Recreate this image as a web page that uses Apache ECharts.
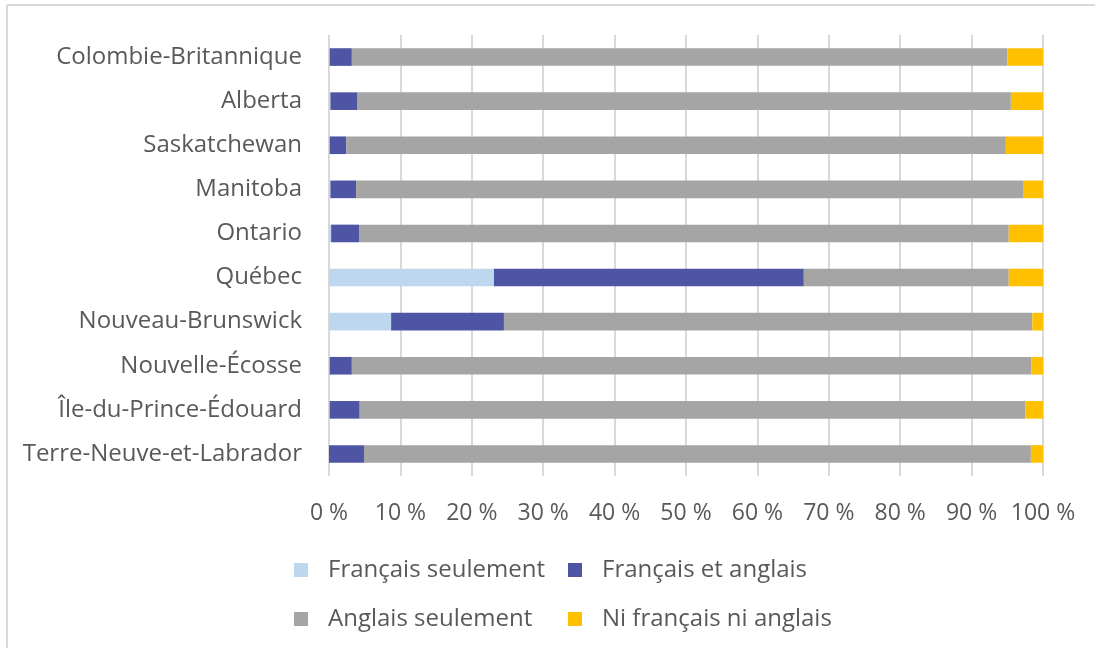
<!DOCTYPE html>
<html>
<head>
<meta charset="utf-8">
<script src="https://cdn.jsdelivr.net/npm/echarts@6/dist/echarts.min.js"></script>
<style>
  html, body { margin: 0; padding: 0; background: #fff; }
  #main { width: 1095px; height: 648px; }
</style>
</head>
<body>
<div id="main"></div>
<script>
// provinces, listed top to bottom as in the picture
const provinces = [
  'Colombie-Britannique', 'Alberta', 'Saskatchewan', 'Manitoba', 'Ontario',
  'Québec', 'Nouveau-Brunswick', 'Nouvelle-Écosse', 'Île-du-Prince-Édouard',
  'Terre-Neuve-et-Labrador'
];

// % of population by knowledge of official languages
const francaisSeulement = [0.1, 0.2, 0.1, 0.2, 0.3, 23.1, 8.7, 0.1, 0.1, 0.0];
const francaisEtAnglais = [3.1, 3.8, 2.3, 3.6, 3.9, 43.4, 15.8, 3.1, 4.2, 4.9];
const anglaisSeulement = [91.8, 91.5, 92.4, 93.5, 91.0, 28.7, 74.0, 95.2, 93.2, 93.4];
const niFrNiAng = [5.0, 4.5, 5.2, 2.7, 4.8, 4.8, 1.5, 1.6, 2.5, 1.7];

const xTicks = [0, 10, 20, 30, 40, 50, 60, 70, 80, 90, 100];

const FONT = '"Open Sans", "Noto Sans", sans-serif';
const TXT = '#595959';

const myChart = echarts.init(document.getElementById('main'));

function bar(name, data, color) {
  return {
    name: name,
    type: 'bar',
    stack: 'total',
    barWidth: '40%',
    data: data,
    itemStyle: { color: color },
    emphasis: { disabled: true }
  };
}

function legendAt(name, left, top) {
  return {
    data: [name],
    left: left,
    top: top,
    icon: 'rect',
    itemWidth: 14,
    itemHeight: 14,
    selectedMode: false,
    textStyle: { fontFamily: FONT, fontSize: 24, color: TXT, padding: [0, 0, 0, 15] }
  };
}

myChart.setOption({
  animation: false,
  grid: { left: 329, right: 52, top: 35, bottom: 172, containLabel: false },
  xAxis: {
    type: 'value',
    min: xTicks[0],
    max: xTicks[xTicks.length - 1],
    interval: 10,
    axisLine: { show: false },
    axisTick: { show: false },
    splitLine: { lineStyle: { color: '#d9d9d9', width: 2 } },
    axisLabel: {
      formatter: '{value} %',
      margin: 26,
      fontFamily: FONT,
      fontSize: 23,
      color: TXT
    }
  },
  yAxis: {
    type: 'category',
    inverse: true,
    data: provinces,
    axisLine: { show: false },
    axisTick: { show: false },
    axisLabel: { margin: 27, fontFamily: FONT, fontSize: 24, color: TXT }
  },
  legend: [
    legendAt('Français seulement', 289, 553),
    legendAt('Français et anglais', 563, 553),
    legendAt('Anglais seulement', 289, 602),
    legendAt('Ni français ni anglais', 563, 602)
  ],
  series: [
    bar('Français seulement', francaisSeulement, '#bdd7ee'),
    bar('Français et anglais', francaisEtAnglais, '#4f55a5'),
    bar('Anglais seulement', anglaisSeulement, '#a5a5a5'),
    bar('Ni français ni anglais', niFrNiAng, '#ffc000')
  ],
  graphic: [
    { type: 'line', shape: { x1: 7, y1: 5, x2: 1095, y2: 5 }, style: { stroke: '#d9d9d9', lineWidth: 2 } },
    { type: 'line', shape: { x1: 7, y1: 5, x2: 7, y2: 648 }, style: { stroke: '#d9d9d9', lineWidth: 2 } }
  ]
});
</script>
</body>
</html>
